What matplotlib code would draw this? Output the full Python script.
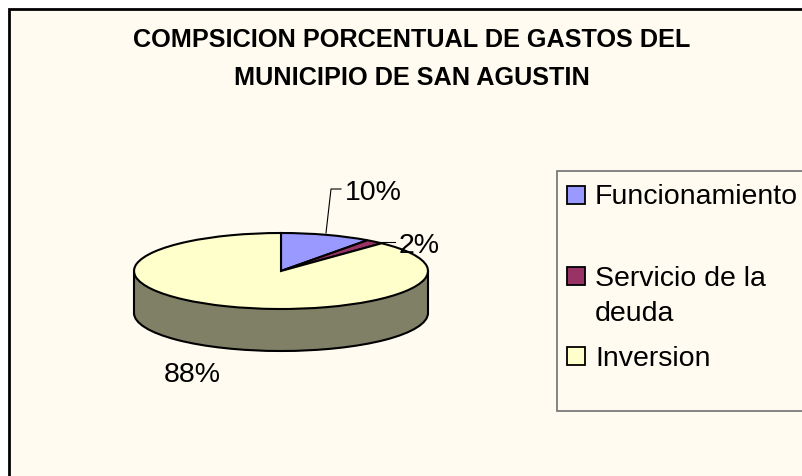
import matplotlib
matplotlib.use("Agg")
import matplotlib.pyplot as plt
from matplotlib.patches import Rectangle, Ellipse

plt.rcParams['font.family'] = ['Liberation Sans', 'DejaVu Sans']

W, H = 802, 476
categorias = ["Funcionamiento", "Servicio de la\ndeuda", "Inversion"]
valores = [10, 2, 88]
etiquetas = ["10%", "2%", "88%"]
colores = ["#9999FF", "#993366", "#FFFFCC"]
color_lado = "#808066"
fondo = "#FFFBF0"

fig = plt.figure(figsize=(W / 100, H / 100), dpi=100, facecolor="white")

# capa en pixeles para marco, titulo y leyenda
base = fig.add_axes([0, 0, 1, 1])
base.set_xlim(0, W)
base.set_ylim(H, 0)
base.axis("off")
base.add_patch(Rectangle((9, 9), W, H, facecolor=fondo, edgecolor="black", linewidth=2))
base.text(412, 59, "COMPSICION PORCENTUAL DE GASTOS DEL\nMUNICIPIO DE SAN AGUSTIN",
          ha="center", va="center", fontsize=18.2, fontweight="bold", linespacing=1.78)

# leyenda
base.add_patch(Rectangle((557, 171), 260, 240, facecolor=fondo, edgecolor="#707070", linewidth=1.2))
ys_caja = [195, 276, 356]
ys_texto = [197, 296.5, 359]
for nombre, color, yc, yt in zip(categorias, colores, ys_caja, ys_texto):
    base.add_patch(Rectangle((567, yc - 9), 18, 18, facecolor=color, edgecolor="black", linewidth=1.3))
    base.text(595, yt, nombre, ha="left", va="center", fontsize=20.5, linespacing=1.47)

# torta: elipse de 294x76 px, centro (281, 271), grosor 42 px
rx, ry, grosor = 147, 38, 42
ax = fig.add_axes([(281 - rx) / W, 1 - (271 + ry) / H, 2 * rx / W, 2 * ry / H])
ax.patch.set_alpha(0)
d = grosor / ry
borde = {"edgecolor": "black", "linewidth": 1.5}
ax.add_patch(Ellipse((0, -d), 2, 2, facecolor=color_lado, **borde))
ax.add_patch(Rectangle((-1, -d), 2, d, facecolor=color_lado, edgecolor="none"))
ax.plot([-1, -1], [0, -d], color="black", lw=1.5, clip_on=False)
ax.plot([1, 1], [0, -d], color="black", lw=1.5, clip_on=False)
ax.pie(valores, colors=colores, startangle=90, counterclock=False, radius=1, wedgeprops=borde)
ax.set_aspect("auto")
ax.set_xlim(-1, 1)
ax.set_ylim(-1, 1)
for art in ax.patches:
    art.set_clip_on(False)

# etiquetas y lineas guia, encima de la torta
px = base.transData
ax.plot([326, 331, 341], [233, 189, 189], color="black", lw=0.8, transform=px, clip_on=False)
ax.plot([380, 395], [242, 242], color="black", lw=0.8, transform=px, clip_on=False)
ax.text(345, 193, etiquetas[0], ha="left", va="center", fontsize=20.5, transform=px)
ax.text(399, 246, etiquetas[1], ha="left", va="center", fontsize=20.5, transform=px)
ax.text(164, 375, etiquetas[2], ha="left", va="center", fontsize=20.5, transform=px)

fig.savefig("out.png", dpi=100, facecolor="white")
